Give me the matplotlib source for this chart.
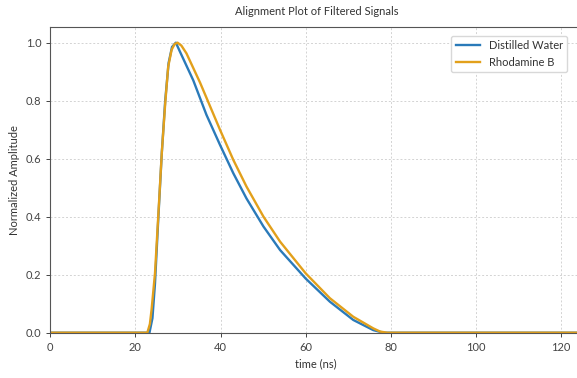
import numpy as np
import matplotlib
matplotlib.use('Agg')
import matplotlib.pyplot as plt

# time (ns) and normalized amplitude
water_t = [0, 23.0, 23.3, 24.0, 24.6, 25.4, 26.2, 27.0, 27.8, 28.6, 29.5, 30.5,
           33.6, 36.7, 39.9, 43.0, 46.1, 50.1, 54.0, 60.0, 65.7, 71.2, 75.9, 78.3, 125]
water_v = [0, 0, 0, 0.05, 0.17, 0.40, 0.62, 0.80, 0.93, 0.985, 1.0, 0.968,
           0.87, 0.751, 0.647, 0.55, 0.463, 0.366, 0.285, 0.187, 0.107, 0.044, 0.009, 0, 0]

rhod_t = [0, 22.8, 23.4, 23.8, 24.6, 25.4, 26.2, 27.0, 27.7, 28.5, 29.2, 29.9, 30.8,
          32.0, 35.2, 36.7, 39.9, 43.0, 46.1, 50.1, 54.0, 60.0, 65.7, 71.2, 75.9, 77.5, 79.2, 125]
rhod_v = [0, 0, 0.03, 0.08, 0.205, 0.41, 0.62, 0.79, 0.917, 0.975, 0.995, 1.0, 0.99,
          0.963, 0.862, 0.81, 0.699, 0.596, 0.504, 0.40, 0.314, 0.205, 0.119, 0.055, 0.015, 0.004, 0, 0]

plt.rcParams['font.family'] = ['Lato', 'DejaVu Sans']

fig = plt.figure(figsize=(5.77, 3.78), dpi=100)
ax = fig.add_axes([0.0872, 0.1198, 0.9218, 0.808])

ax.plot(water_t, water_v, color='#2a7ab9', lw=1.7, label='Distilled Water')
ax.plot(rhod_t, rhod_v, color='#e2a01b', lw=1.7, label='Rhodamine B')

ax.set_xlim(0, 125)
ax.set_ylim(0, 1.053)
ax.set_xticks([0, 20, 40, 60, 80, 100, 120])
ax.set_yticks([0.0, 0.2, 0.4, 0.6, 0.8, 1.0])
ax.grid(True, linestyle=(0, (2, 2)), color='#d3d3d3', linewidth=0.7)

for s in ax.spines.values():
    s.set_color('#555555')
ax.spines['right'].set_visible(False)
ax.tick_params(labelsize=8, colors='#444444', length=3, width=0.7)

ax.set_title('Alignment Plot of Filtered Signals', fontsize=8, color='#333333', pad=9)
ax.set_xlabel('time (ns)', fontsize=8, color='#333333')
ax.set_ylabel('Normalized Amplitude', fontsize=8, color='#333333')

leg = ax.legend(loc='upper right', bbox_to_anchor=(573 / 577, 1 - 30 / 378),
                bbox_transform=fig.transFigure, fontsize=8, framealpha=1,
                edgecolor='#d8d8d8', handlelength=2.2)
for txt in leg.get_texts():
    txt.set_color('#333333')

fig.savefig('out.png', dpi=100)
